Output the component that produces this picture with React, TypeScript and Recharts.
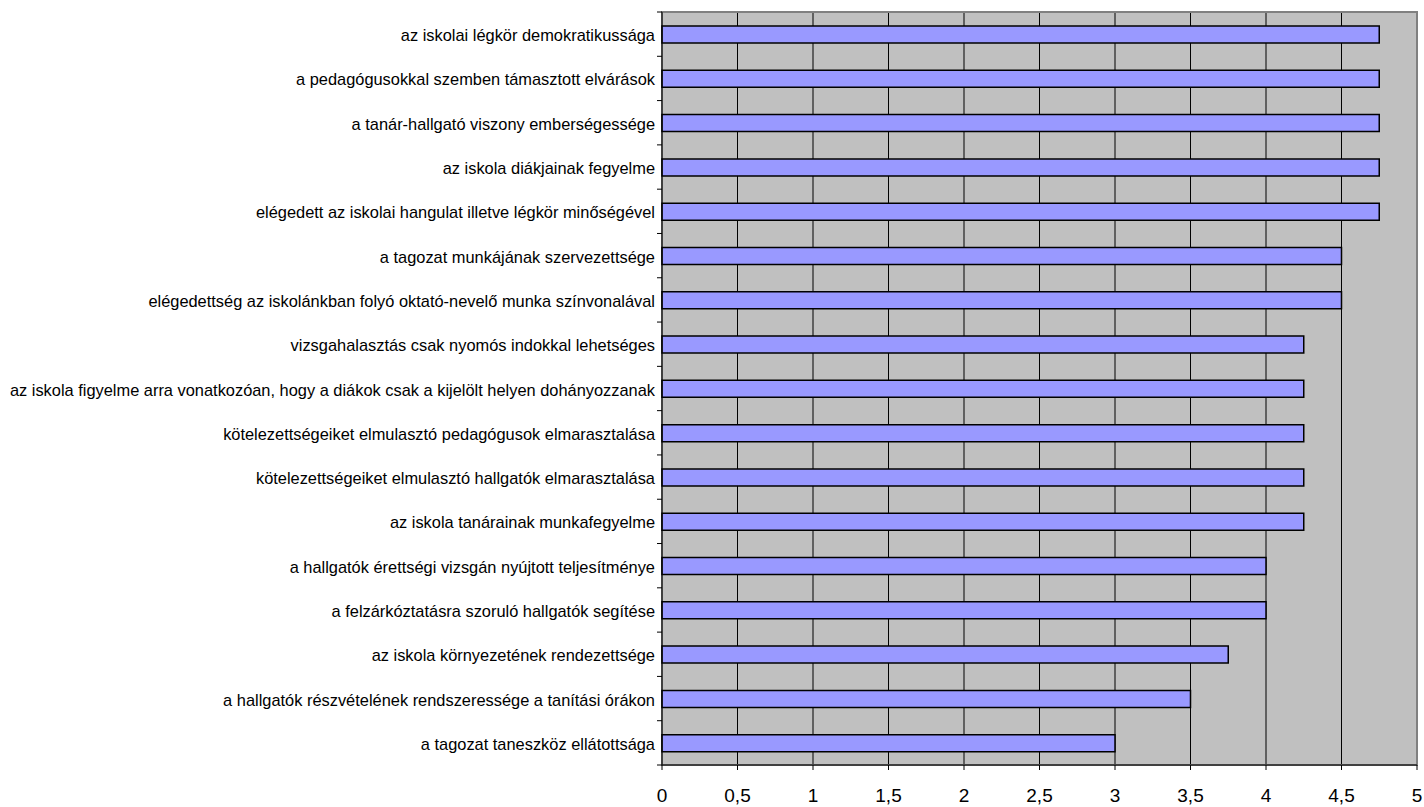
import React from 'react';
import { BarChart, Bar, XAxis, YAxis, CartesianGrid, ReferenceArea } from 'recharts';

const categories: string[] = [
  'az iskolai légkör demokratikussága',
  'a pedagógusokkal szemben támasztott elvárások',
  'a tanár-hallgató viszony emberségessége',
  'az iskola diákjainak fegyelme',
  'elégedett az iskolai hangulat illetve légkör minőségével',
  'a tagozat munkájának szervezettsége',
  'elégedettség az iskolánkban folyó oktató-nevelő munka színvonalával',
  'vizsgahalasztás csak nyomós indokkal lehetséges',
  'az iskola figyelme arra vonatkozóan, hogy a diákok csak a kijelölt helyen dohányozzanak',
  'kötelezettségeiket elmulasztó pedagógusok elmarasztalása',
  'kötelezettségeiket elmulasztó hallgatók elmarasztalása',
  'az iskola tanárainak munkafegyelme',
  'a hallgatók érettségi vizsgán nyújtott teljesítménye',
  'a felzárkóztatásra szoruló hallgatók segítése',
  'az iskola környezetének rendezettsége',
  'a hallgatók részvételének rendszeressége a tanítási órákon',
  'a tagozat taneszköz ellátottsága',
];

const values: number[] = [4.75, 4.75, 4.75, 4.75, 4.75, 4.5, 4.5, 4.25, 4.25, 4.25, 4.25, 4.25, 4, 4, 3.75, 3.5, 3];

const xTicks: number[] = [0, 0.5, 1, 1.5, 2, 2.5, 3, 3.5, 4, 4.5, 5];

const data = categories.map((name, i) => ({ name, value: values[i] }));

const FONT = '"Liberation Sans", Arial, sans-serif';
const TICK_MARGIN = 3;
const TICK_LEN = 5;

const CatTick = (props: any) => {
  const { x, y, payload, index, visibleTicksCount } = props;
  const off = payload && typeof payload.offset === 'number' ? payload.offset : 0;
  const lx = x + TICK_MARGIN;
  const isLast = index === visibleTicksCount - 1;
  return (
    <g>
      {off > 0 && (
        <line x1={lx} x2={lx + TICK_LEN} y1={y - off} y2={y - off} stroke="#000" strokeWidth={1} />
      )}
      {off > 0 && isLast && (
        <line x1={lx} x2={lx + TICK_LEN} y1={y + off} y2={y + off} stroke="#000" strokeWidth={1} />
      )}
      <text x={x + 1} y={y + 1} textAnchor="end" dominantBaseline="central" fontSize={16.4} fontFamily={FONT} fill="#000">
        {payload.value}
      </text>
    </g>
  );
};

export default function App() {
  return (
    <div style={{ position: 'absolute', left: 0, top: 0, background: '#fff' }}>
      <BarChart
        width={1424}
        height={807}
        data={data}
        layout="vertical"
        margin={{ top: 12, right: 7, bottom: 0, left: 0 }}
        barSize={17}
      >
        <CartesianGrid
          horizontal={false}
          vertical={true}
          stroke="#000"
          strokeWidth={1}
          fill="#C0C0C0"
          fillOpacity={1}
        />
        <XAxis
          type="number"
          domain={[0, 5]}
          ticks={xTicks}
          interval={0}
          height={42}
          axisLine={{ stroke: '#000', strokeWidth: 1 }}
          tickLine={{ stroke: '#000', strokeWidth: 1 }}
          tickSize={5}
          tickMargin={19}
          tick={{ fontSize: 19, fontFamily: FONT, fill: '#000' }}
          tickFormatter={(v: number) => String(v).replace('.', ',')}
        />
        <YAxis
          type="category"
          dataKey="name"
          width={662}
          interval={0}
          axisLine={{ stroke: '#000', strokeWidth: 1 }}
          tickLine={false}
          tickSize={TICK_LEN}
          tickMargin={TICK_MARGIN}
          tick={<CatTick />}
        />
        <ReferenceArea x1={0} x2={5} fill="none" stroke="#808080" strokeWidth={2} ifOverflow="visible" />
        <Bar dataKey="value" fill="#9999FF" stroke="#000" strokeWidth={1.5} isAnimationActive={false} />
      </BarChart>
    </div>
  );
}
